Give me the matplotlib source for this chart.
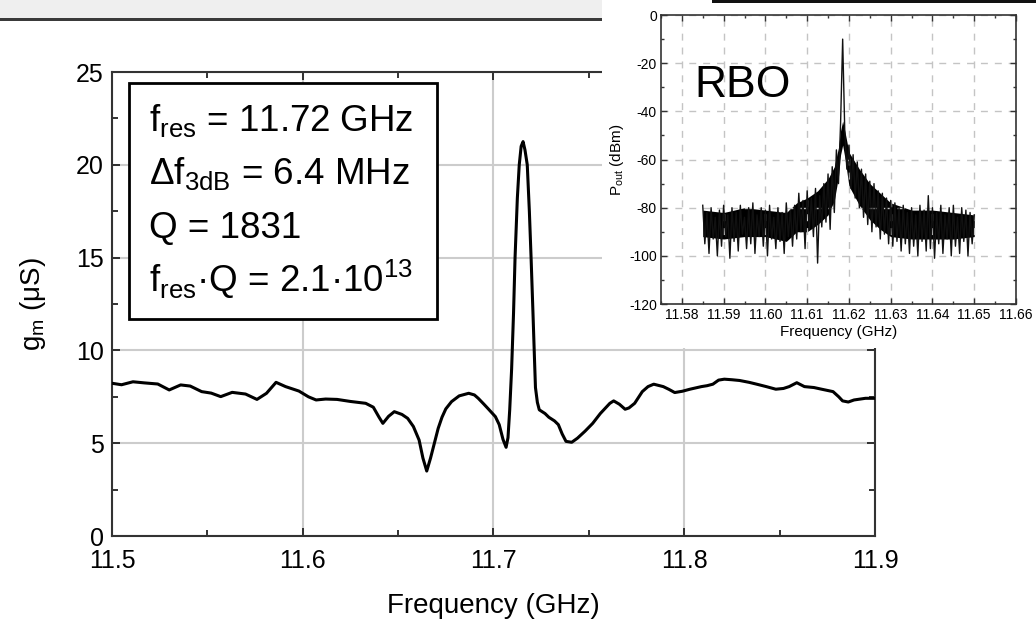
import matplotlib
matplotlib.use("Agg")
import matplotlib.pyplot as plt
import numpy as np
from matplotlib.patches import Rectangle
from matplotlib.ticker import MultipleLocator, FormatStrFormatter

plt.rcParams['font.family'] = ['Liberation Sans', 'DejaVu Sans']
plt.rcParams['mathtext.fontset'] = 'custom'
plt.rcParams['mathtext.rm'] = 'Liberation Sans'
plt.rcParams['axes.unicode_minus'] = False

# main trace: transconductance vs frequency
freq_ghz = [11.500, 11.505, 11.511, 11.517, 11.524, 11.530, 11.536, 11.541, 11.547, 11.552,
            11.557, 11.563, 11.570, 11.576, 11.581, 11.586, 11.591, 11.598, 11.603, 11.607,
            11.612, 11.618, 11.625, 11.633, 11.637, 11.640, 11.642, 11.645, 11.648, 11.652,
            11.655, 11.658, 11.661, 11.663, 11.665, 11.667, 11.669, 11.671, 11.673, 11.675,
            11.678, 11.682, 11.687, 11.690, 11.692, 11.695, 11.697, 11.701, 11.703, 11.705,
            11.7066, 11.7076, 11.7085, 11.7095, 11.7105, 11.7113, 11.7125, 11.7135, 11.7145, 11.7155,
            11.7165, 11.7177, 11.7188, 11.7197, 11.7207, 11.7215, 11.722, 11.723, 11.724, 11.727,
            11.729, 11.732, 11.734, 11.736, 11.738, 11.741, 11.744, 11.748, 11.752, 11.756,
            11.761, 11.763, 11.766, 11.769, 11.771, 11.774, 11.778, 11.781, 11.784, 11.789,
            11.792, 11.795, 11.799, 11.803, 11.809, 11.812, 11.815, 11.818, 11.821, 11.825,
            11.829, 11.834, 11.838, 11.843, 11.848, 11.852, 11.855, 11.859, 11.863, 11.868,
            11.872, 11.878, 11.881, 11.883, 11.886, 11.889, 11.895, 11.900]
gm_us = [8.23, 8.15, 8.31, 8.25, 8.19, 7.87, 8.14, 8.08, 7.78, 7.70,
         7.51, 7.74, 7.65, 7.36, 7.69, 8.28, 8.05, 7.81, 7.50, 7.33,
         7.38, 7.36, 7.25, 7.15, 6.94, 6.40, 6.07, 6.45, 6.70, 6.55,
         6.34, 5.90, 5.17, 4.20, 3.50, 4.20, 5.00, 5.80, 6.40, 6.85,
         7.24, 7.55, 7.69, 7.60, 7.42, 7.10, 6.88, 6.43, 6.00, 5.20,
         4.78, 5.30, 6.80, 9.00, 12.0, 15.0, 18.2, 20.0, 21.0, 21.25,
         20.8, 20.0, 17.5, 15.0, 12.0, 9.5, 8.0, 7.2, 6.8, 6.6,
         6.4, 6.2, 6.0, 5.5, 5.1, 5.05, 5.27, 5.65, 6.07, 6.60,
         7.15, 7.28, 7.10, 6.83, 6.90, 7.15, 7.78, 8.05, 8.18, 8.05,
         7.90, 7.73, 7.80, 7.91, 8.05, 8.10, 8.18, 8.40, 8.45, 8.42,
         8.38, 8.28, 8.18, 8.05, 7.91, 7.95, 8.05, 8.26, 8.05, 8.00,
         7.91, 7.78, 7.50, 7.28, 7.22, 7.33, 7.42, 7.42]

box_lines = [r"f$_\mathregular{res}$ = 11.72 GHz",
             r"Δf$_\mathregular{3dB}$ = 6.4 MHz",
             r"Q = 1831",
             r"f$_\mathregular{res}$·Q = 2.1·10$^\mathregular{13}$"]

# inset: output spectrum, sampled every 0.5 MHz from 11.585 GHz
spec_start = 11.585
spec_step = 0.0005
spec_dbm = [-79, -95, -82, -99, -80, -93, -84, -100, -81, -96,
            -79, -92, -83, -101, -80, -94, -82, -98, -79, -91,
            -84, -97, -80, -95, -78, -99, -83, -92, -80, -96,
            -81, -100, -79, -93, -84, -97, -80, -94, -82, -99,
            -78, -92, -81, -96, -79, -93, -74, -90, -77, -97,
            -73, -89, -76, -92, -72, -103, -75, -88, -70, -86,
            -66, -89, -63, -82, -56, -70, -45, -10, -48, -64,
            -54, -72, -58, -76, -61, -80, -64, -84, -66, -87,
            -69, -90, -70, -88, -73, -93, -74, -91, -76, -95,
            -77, -96, -78, -94, -80, -98, -79, -95, -82, -99,
            -80, -96, -83, -100, -79, -94, -81, -98, -75, -97,
            -80, -101, -82, -95, -79, -99, -83, -93, -80, -100,
            -79, -96, -84, -99, -80, -94, -81, -100, -82, -95, -83]
# dense core of the noise band
core_freq = [11.585, 11.59, 11.595, 11.60, 11.605, 11.6075, 11.61, 11.6125, 11.615, 11.6165,
             11.6175, 11.618, 11.6185, 11.619, 11.62, 11.6225, 11.625, 11.6275, 11.63, 11.635,
             11.64, 11.645, 11.65]
core_hi = [-81, -82, -80, -81, -82, -78, -76, -73, -68, -63,
           -55, -48, -44, -48, -57, -64, -70, -74, -78, -81,
           -81, -82, -83]
core_lo = [-92, -93, -92, -92, -94, -90, -90, -87, -83, -77,
           -67, -58, -54, -59, -71, -79, -85, -89, -92, -93,
           -93, -93, -92]

fig = plt.figure(figsize=(10.36, 6.24), dpi=100)

# screenshot leftovers: grey header band and rule
fig.patches.append(Rectangle((0, 0.9696), 0.581, 0.0304, transform=fig.transFigure,
                             facecolor='#efefef', edgecolor='none', zorder=0))
fig.patches.append(Rectangle((0, 0.9665), 0.581, 0.004, transform=fig.transFigure,
                             facecolor='#3a3a3a', edgecolor='none', zorder=0))

ax = fig.add_axes([0.1081, 0.141, 0.7365, 0.7436])
ax.plot(freq_ghz, gm_us, color='black', lw=2.2, zorder=3)
ax.set_xlim(11.5, 11.9)
ax.set_ylim(0, 25)
ax.xaxis.set_major_locator(MultipleLocator(0.1))
ax.xaxis.set_minor_locator(MultipleLocator(0.05))
ax.yaxis.set_major_locator(MultipleLocator(5))
ax.yaxis.set_minor_locator(MultipleLocator(2.5))
ax.xaxis.set_major_formatter(FormatStrFormatter('%.1f'))
ax.grid(True, which='major', color='#cccccc', lw=1.5)
ax.tick_params(which='both', direction='in', top=True, right=True, width=1.3, color='#222222')
ax.tick_params(which='major', length=6, labelsize=18)
ax.tick_params(which='minor', length=4)
ax.tick_params(axis='x', pad=9)
ax.tick_params(axis='y', pad=6)
for s in ax.spines.values():
    s.set_linewidth(1.5)
    s.set_color('#333333')
ax.set_xlabel('Frequency (GHz)', fontsize=20, labelpad=15)
ax.set_ylabel(r"g$_\mathregular{m}$ (μS)", fontsize=20, labelpad=20)

ax.add_patch(Rectangle((0.0223, 0.4677), 0.4037, 0.5083, transform=ax.transAxes,
                       facecolor='white', edgecolor='black', lw=2.0, zorder=5))
for i, line in enumerate(box_lines):
    ax.text(0.0485, 0.8713 - i * 0.1149, line, transform=ax.transAxes, fontsize=26.5,
            va='baseline', ha='left', zorder=6)

# white panel behind the inset and the dark photo edge above it
fig.patches.append(Rectangle((0.581, 0.4423), 0.419, 0.5529, transform=fig.transFigure,
                             facecolor='white', edgecolor='none', zorder=1))
fig.patches.append(Rectangle((0.687, 0.995), 0.313, 0.005, transform=fig.transFigure,
                             facecolor='#111111', edgecolor='none', zorder=1))

ins = fig.add_axes([0.638, 0.5128, 0.3427, 0.4631])
ins.set_zorder(2)
spec_freq = spec_start + spec_step * np.arange(len(spec_dbm))
ins.fill_between(core_freq, core_lo, core_hi, color='black', lw=0)
ins.plot(spec_freq, spec_dbm, color='#111111', lw=1.0)
ins.set_xlim(11.575, 11.66)
ins.set_ylim(-120, 0)
ins.xaxis.set_major_locator(MultipleLocator(0.01))
ins.xaxis.set_minor_locator(MultipleLocator(0.005))
ins.yaxis.set_major_locator(MultipleLocator(20))
ins.yaxis.set_minor_locator(MultipleLocator(10))
ins.xaxis.set_major_formatter(FormatStrFormatter('%.2f'))
ins.grid(True, which='major', color='#c4c4c4', lw=1.0, ls=(0, (5, 5)))
ins.tick_params(which='both', direction='in', top=True, right=True, width=1.0, color='#333333')
ins.tick_params(which='major', length=4, labelsize=10, pad=3)
ins.tick_params(which='minor', length=2)
for s in ins.spines.values():
    s.set_linewidth(1.2)
    s.set_color('#333333')
ins.set_xlabel('Frequency (GHz)', fontsize=11, labelpad=2)
ins.set_ylabel(r"P$_\mathregular{out}$ (dBm)", fontsize=11, labelpad=2)
ins.text(11.5831, -34, 'RBO', fontsize=32, va='baseline', ha='left')

fig.savefig('out.png', dpi=100)
